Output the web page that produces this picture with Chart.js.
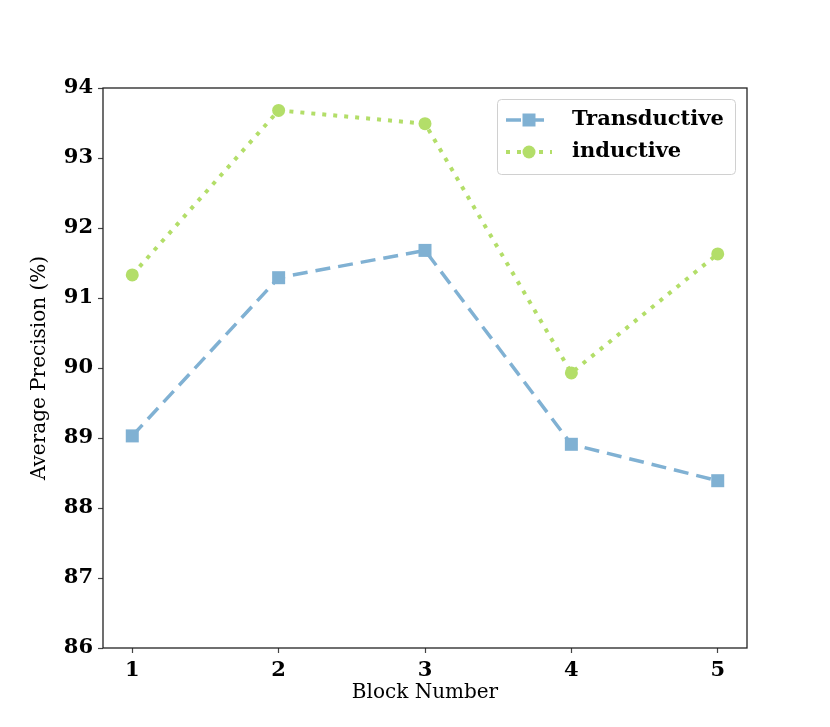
<!DOCTYPE html>
<html>
<head>
<meta charset="utf-8">
<script src="https://cdn.jsdelivr.net/npm/chart.js@4.4.1/dist/chart.umd.min.js"></script>
<style>
  html, body { margin: 0; padding: 0; background: #fff; }
  #wrap { width: 830px; height: 727px; }
</style>
</head>
<body>
<div id="wrap"><canvas id="c" width="830" height="727"></canvas></div>
<script>
const blocks = [1, 2, 3, 4, 5];
const transductive = [89.03, 91.29, 91.68, 88.91, 88.39];
const inductive = [91.33, 93.68, 93.49, 89.93, 91.63];
const yTicks = [86, 87, 88, 89, 90, 91, 92, 93, 94];
const seriesNames = ['Transductive', 'inductive'];

const BLUE = '#80b1d3';
const GREEN = '#b3de69';
const SERIF = '"DejaVu Serif", "Liberation Serif", serif';

const framePlugin = {
  id: 'frame',
  afterDatasetsDraw(chart) {
    const { ctx, chartArea: a } = chart;
    ctx.save();
    ctx.strokeStyle = '#222';
    ctx.lineWidth = 1.3;
    ctx.strokeRect(a.left, a.top, a.right - a.left, a.bottom - a.top);
    ctx.restore();
  }
};

const legendPlugin = {
  id: 'innerLegend',
  afterDraw(chart) {
    const { ctx, chartArea: a } = chart;
    const boxW = 238, boxH = 75;
    const bx = a.right - 12 - boxW, by = a.top + 11;
    ctx.save();
    ctx.fillStyle = 'rgba(255,255,255,0.85)';
    ctx.strokeStyle = '#d0d0d0';
    ctx.lineWidth = 1;
    ctx.beginPath();
    if (ctx.roundRect) ctx.roundRect(bx + 0.5, by + 0.5, boxW, boxH, 4);
    else ctx.rect(bx + 0.5, by + 0.5, boxW, boxH);
    ctx.fill();
    ctx.stroke();
    chart.data.datasets.forEach((ds, i) => {
      const cy = by + 21 + i * 32;
      const x0 = bx + 9, x1 = bx + 55;
      ctx.strokeStyle = ds.borderColor;
      ctx.lineWidth = ds.borderWidth;
      ctx.setLineDash(ds.borderDash || []);
      ctx.lineCap = 'butt';
      ctx.beginPath();
      ctx.moveTo(x0, cy);
      ctx.lineTo(x1, cy);
      ctx.stroke();
      ctx.setLineDash([]);
      ctx.fillStyle = ds.pointBackgroundColor;
      const mx = (x0 + x1) / 2;
      ctx.beginPath();
      if (ds.pointStyle === 'rect') {
        ctx.rect(mx - 6.5, cy - 6.5, 13, 13);
      } else {
        ctx.arc(mx, cy, 6.5, 0, Math.PI * 2);
      }
      ctx.fill();
      ctx.fillStyle = '#000';
      ctx.font = 'bold 21px ' + SERIF;
      ctx.textBaseline = 'middle';
      ctx.textAlign = 'left';
      ctx.fillText(ds.label, bx + 75, cy);
    });
    ctx.restore();
  }
};

new Chart(document.getElementById('c'), {
  type: 'line',
  data: {
    datasets: [
      {
        label: seriesNames[0],
        data: blocks.map((b, i) => ({ x: b, y: transductive[i] })),
        borderColor: BLUE,
        backgroundColor: BLUE,
        pointBackgroundColor: BLUE,
        pointBorderColor: BLUE,
        borderWidth: 3.5,
        borderDash: [15, 8],
        pointStyle: 'rect',
        pointRadius: 9.2,
        pointBorderWidth: 0,
        tension: 0,
        fill: false
      },
      {
        label: seriesNames[1],
        data: blocks.map((b, i) => ({ x: b, y: inductive[i] })),
        borderColor: GREEN,
        backgroundColor: GREEN,
        pointBackgroundColor: GREEN,
        pointBorderColor: GREEN,
        borderWidth: 4,
        borderDash: [4, 7],
        pointStyle: 'circle',
        pointRadius: 6.5,
        pointBorderWidth: 0,
        tension: 0,
        fill: false
      }
    ]
  },
  options: {
    responsive: false,
    animation: false,
    devicePixelRatio: 1,
    layout: { padding: { left: 28, right: 83, top: 88, bottom: 22 } },
    plugins: {
      legend: { display: false },
      tooltip: { enabled: false }
    },
    scales: {
      x: {
        type: 'linear',
        min: 0.8,
        max: 5.2,
        afterBuildTicks(axis) { axis.ticks = blocks.map(v => ({ value: v })); },
        afterFit(axis) { axis.height = 57; },
        grid: { drawOnChartArea: false, drawTicks: true, tickLength: 5, color: '#444', tickWidth: 1.2 },
        border: { display: false },
        ticks: { color: '#000', font: { family: SERIF, size: 21, weight: 'bold' }, padding: 5, maxRotation: 0,
                 callback: v => String(v) },
        title: { display: true, text: 'Block Number', color: '#000', font: { family: SERIF, size: 20 }, padding: { top: 0, bottom: 0 } }
      },
      y: {
        type: 'linear',
        min: 86,
        max: 94,
        afterBuildTicks(axis) { axis.ticks = yTicks.map(v => ({ value: v })); },
        afterFit(axis) { axis.width = 75; },
        grid: { drawOnChartArea: false, drawTicks: true, tickLength: 5, color: '#444', tickWidth: 1.2 },
        border: { display: false },
        ticks: { color: '#000', font: { family: SERIF, size: 21, weight: 'bold' }, padding: 5,
                 callback: v => String(v) },
        title: { display: true, text: 'Average Precision (%)', color: '#000', font: { family: SERIF, size: 20 }, padding: { top: 0, bottom: 0 } }
      }
    }
  },
  plugins: [framePlugin, legendPlugin]
});
</script>
</body>
</html>
